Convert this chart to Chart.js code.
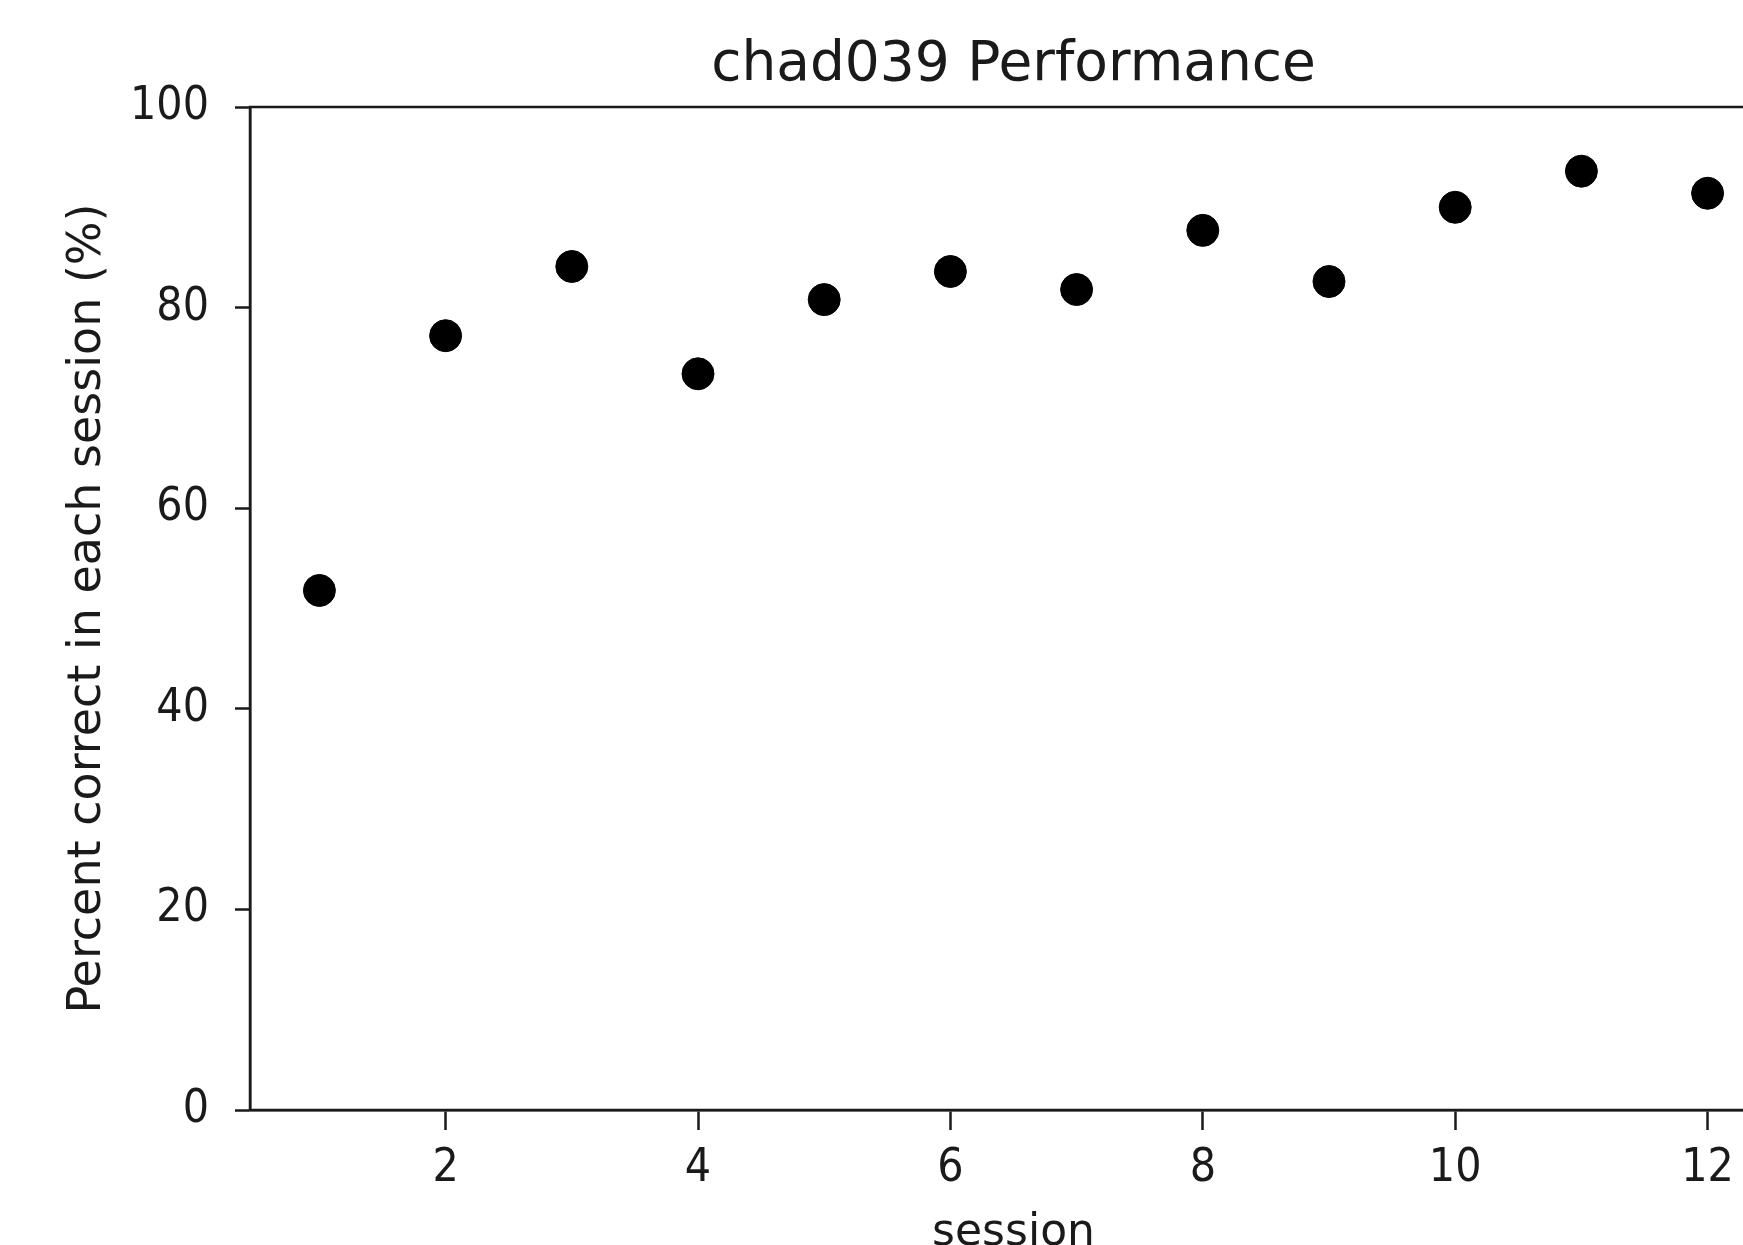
<!DOCTYPE html>
<html lang="en">
<head>
  <meta charset="UTF-8">
  <title>chad039 Performance</title>
  <script src="https://cdn.jsdelivr.net/npm/chart.js"></script>
  <style>
    html, body { margin: 0; padding: 0; overflow: hidden; background: #fff; }
    canvas { display: block; }
  </style>
</head>
<body>
  <canvas id="perfChart" width="1800" height="1260"></canvas>
  <script>
    const sessions = [1, 2, 3, 4, 5, 6, 7, 8, 9, 10, 11, 12];
    const percentCorrect = [51.8, 77.2, 84.1, 73.4, 80.8, 83.6, 81.8, 87.7, 82.6, 90.0, 93.6, 91.4];
    const xTicks = [2, 4, 6, 8, 10, 12];
    const yTicks = [0, 20, 40, 60, 80, 100];

    const ink = '#1a1a1a';
    const tickFont = { family: "'DejaVu Sans Condensed', 'DejaVu Sans', sans-serif", size: 46 };

    // matplotlib draws a full box round the axes
    const frame = {
      id: 'frame',
      afterDatasetsDraw(chart) {
        const { ctx, chartArea: a } = chart;
        ctx.save();
        ctx.strokeStyle = ink;
        ctx.lineWidth = 2.5;
        ctx.strokeRect(a.left, a.top, a.right - a.left, a.bottom - a.top);
        ctx.restore();
      }
    };

    new Chart(document.getElementById('perfChart'), {
      type: 'scatter',
      data: {
        datasets: [{
          data: sessions.map((s, i) => ({ x: s, y: percentCorrect[i] })),
          backgroundColor: '#000',
          borderColor: '#000',
          pointRadius: 16,
          pointHoverRadius: 16
        }]
      },
      options: {
        responsive: false,
        animation: false,
        layout: { padding: { left: 0, right: 23, top: 0, bottom: 0 } },
        plugins: {
          legend: { display: false },
          tooltip: { enabled: false },
          title: {
            display: true,
            fullSize: false,
            text: 'chad039 Performance',
            color: ink,
            font: { family: "'DejaVu Sans', sans-serif", size: 55, weight: 'normal' },
            padding: { top: 33, bottom: 8 }
          }
        },
        scales: {
          x: {
            type: 'linear',
            min: 0.45,
            max: 12.55,
            afterBuildTicks: s => { s.ticks = xTicks.map(v => ({ value: v })); },
            afterFit: s => { s.height = 150; },
            grid: { drawOnChartArea: false, drawTicks: true, tickLength: 20, tickWidth: 2.5, tickColor: ink },
            border: { display: true, color: ink, width: 2.5 },
            ticks: { color: ink, font: tickFont, padding: 11, maxRotation: 0 },
            title: {
              display: true,
              text: 'session',
              color: ink,
              font: { family: "'DejaVu Sans', sans-serif", size: 44 },
              padding: { top: 0, bottom: 0 }
            }
          },
          y: {
            min: 0,
            max: 100,
            afterBuildTicks: s => { s.ticks = yTicks.map(v => ({ value: v })); },
            afterFit: s => { s.width = 250; },
            grid: { drawOnChartArea: false, drawTicks: true, tickLength: 15, tickWidth: 2.5, tickColor: ink },
            border: { display: true, color: ink, width: 2.5 },
            ticks: { color: ink, font: tickFont, padding: 26 },
            title: {
              display: true,
              text: 'Percent correct in each session (%)',
              color: ink,
              font: { family: "'DejaVu Sans', sans-serif", size: 46 },
              padding: { top: 60, bottom: 0 }
            }
          }
        }
      },
      plugins: [frame]
    });
  </script>
</body>
</html>
